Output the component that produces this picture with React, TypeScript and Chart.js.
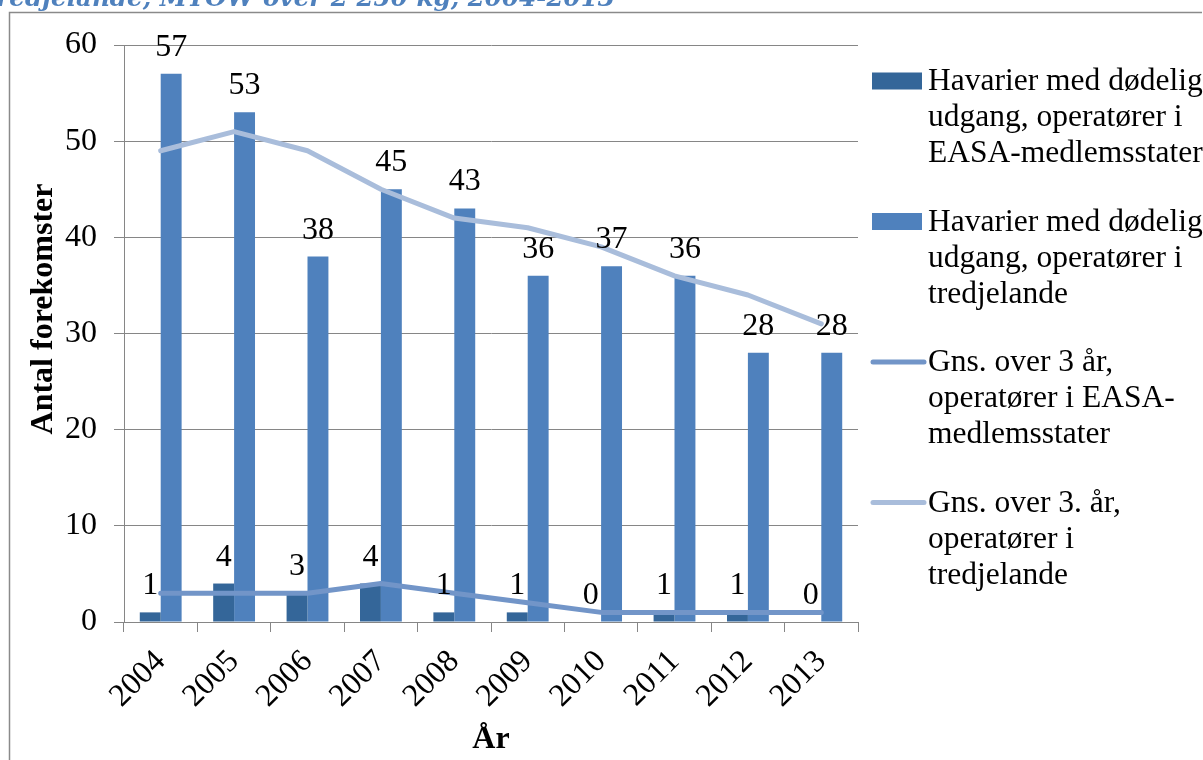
import React, { useEffect, useRef } from "react";
import { Chart, registerables } from "chart.js";

Chart.register(...registerables);

const years = ["2004", "2005", "2006", "2007", "2008", "2009", "2010", "2011", "2012", "2013"];
const easaFatal = [1, 4, 3, 4, 1, 1, 0, 1, 1, 0];
const thirdFatal = [57, 53, 38, 45, 43, 36, 37, 36, 28, 28];
const easaAvg3 = [3, 3, 3, 4, 3, 2, 1, 1, 1, 1];
const thirdAvg3 = [49, 51, 49, 45, 42, 41, 39, 36, 34, 31];

const legendLines = [
  ["Havarier med dødelig", "udgang, operatører i", "EASA-medlemsstater"],
  ["Havarier med dødelig", "udgang, operatører i", "tredjelande"],
  ["Gns. over 3 år,", "operatører i EASA-", "medlemsstater"],
  ["Gns. over 3. år,", "operatører i", "tredjelande"],
];
const yAxisTitle = "Antal forekomster";
const xAxisTitle = "År";
const headingText = "tredjelande, MTOW over 2 250 kg, 2004-2013";

const DARK = "#346699";
const MID = "#4f81bd";
const LINE1 = "#7295c8";
const LINE2 = "#a9bddb";
const GRID = "#868686";
const SERIF = '"Liberation Serif", "Times New Roman", serif';
const FS = 32;

const framePlugin = {
  id: "frameAndHeading",
  beforeDraw(chart: any) {
    const ctx = chart.ctx;
    ctx.save();
    ctx.fillStyle = "#ffffff";
    ctx.fillRect(0, 0, chart.width, chart.height);
    ctx.strokeStyle = "#8a8a8a";
    ctx.lineWidth = 1.5;
    ctx.beginPath();
    ctx.moveTo(9.5, chart.height);
    ctx.lineTo(9.5, 12.5);
    ctx.lineTo(1202, 12.5);
    ctx.stroke();
    // heading (cut off at top of the page)
    ctx.fillStyle = MID;
    ctx.font = 'bold italic 26px "DejaVu Serif", serif';
    ctx.textAlign = "left";
    ctx.textBaseline = "alphabetic";
    const w = ctx.measureText(headingText).width;
    const target = 630;
    const size = (26 * target) / w;
    ctx.font = `bold italic ${size.toFixed(2)}px "DejaVu Serif", serif`;
    ctx.fillText(headingText, 615 - target, 6);
    ctx.restore();
  },
  afterDraw(chart: any) {
    const ctx = chart.ctx;
    ctx.save();
    ctx.fillStyle = "#000000";
    ctx.font = `bold ${FS}px ${SERIF}`;
    ctx.textAlign = "center";
    ctx.textBaseline = "middle";
    ctx.translate(44, 309);
    ctx.rotate(-Math.PI / 2);
    ctx.fillText(yAxisTitle, 0, 0);
    ctx.restore();
  },
};

const labelPlugin = {
  id: "barLabels",
  afterDatasetsDraw(chart: any) {
    const ctx = chart.ctx;
    ctx.save();
    ctx.font = `${FS}px ${SERIF}`;
    ctx.fillStyle = "#000000";
    ctx.textAlign = "center";
    ctx.textBaseline = "alphabetic";
    [0, 1].forEach((di) => {
      const meta = chart.getDatasetMeta(di);
      const data = chart.data.datasets[di].data as number[];
      meta.data.forEach((el: any, i: number) => {
        ctx.fillText(String(data[i]), el.x, el.y - 18);
      });
    });
    ctx.restore();
  },
};

const legendPlugin = {
  id: "sideLegend",
  afterDraw(chart: any) {
    const ctx = chart.ctx;
    const area = chart.chartArea;
    const mx0 = area.right + 14;
    const mx1 = mx0 + 50;
    const tx = mx1 + 6;
    const firstBase = 90;
    const itemStep = 140.5;
    const lineStep = 36;
    ctx.save();
    ctx.font = `31.5px ${SERIF}`;
    ctx.fillStyle = "#000000";
    ctx.textAlign = "left";
    ctx.textBaseline = "alphabetic";
    legendLines.forEach((lines, i) => {
      const ds = chart.data.datasets[i];
      const base = firstBase + i * itemStep;
      const cy = base - 9;
      if (ds.type === "line") {
        ctx.strokeStyle = ds.borderColor;
        ctx.lineWidth = 5;
        ctx.lineCap = "round";
        ctx.beginPath();
        ctx.moveTo(mx0 + 1, cy);
        ctx.lineTo(mx1 + 2, cy);
        ctx.stroke();
      } else {
        ctx.fillStyle = ds.backgroundColor;
        ctx.fillRect(mx0, cy - 8.5, 50, 17);
      }
      ctx.fillStyle = "#000000";
      lines.forEach((t, j) => {
        ctx.fillText(t, tx, base + j * lineStep);
      });
    });
    ctx.restore();
  },
};

export default function App() {
  const ref = useRef<HTMLCanvasElement | null>(null);

  useEffect(() => {
    if (!ref.current) return;
    const chart = new Chart(ref.current, {
      type: "bar",
      data: {
        labels: years,
        datasets: [
          {
            type: "bar",
            label: legendLines[0].join(" "),
            data: easaFatal,
            backgroundColor: DARK,
            borderWidth: 0,
            categoryPercentage: 0.57,
            barPercentage: 1,
            order: 2,
          },
          {
            type: "bar",
            label: legendLines[1].join(" "),
            data: thirdFatal,
            backgroundColor: MID,
            borderWidth: 0,
            categoryPercentage: 0.57,
            barPercentage: 1,
            order: 2,
          },
          {
            type: "line",
            label: legendLines[2].join(" "),
            data: easaAvg3,
            borderColor: LINE1,
            backgroundColor: LINE1,
            borderWidth: 5,
            pointRadius: 0,
            tension: 0,
            borderCapStyle: "round",
            borderJoinStyle: "round",
            order: 1,
          },
          {
            type: "line",
            label: legendLines[3].join(" "),
            data: thirdAvg3,
            borderColor: LINE2,
            backgroundColor: LINE2,
            borderWidth: 5,
            pointRadius: 0,
            tension: 0,
            borderCapStyle: "round",
            borderJoinStyle: "round",
            order: 1,
          },
        ] as any,
      },
      options: {
        responsive: false,
        animation: false,
        layout: { padding: { left: 0, right: 345, top: 45, bottom: 0 } },
        plugins: {
          legend: { display: false },
          title: { display: false },
          tooltip: { enabled: false },
        },
        scales: {
          x: {
            afterFit: (s: any) => {
              s.height = 138;
            },
            grid: {
              offset: true,
              drawOnChartArea: false,
              drawTicks: true,
              tickLength: 10,
              color: GRID,
            },
            border: { display: true, color: GRID, width: 1 },
            ticks: {
              color: "#000000",
              font: { family: SERIF, size: FS },
              maxRotation: 45,
              minRotation: 45,
              padding: 11,
              autoSkip: false,
            },
            title: {
              display: true,
              text: xAxisTitle,
              color: "#000000",
              font: { family: SERIF, size: FS, weight: "bold" },
              padding: { top: 0, bottom: 1 },
            },
          },
          y: {
            min: 0,
            max: 60,
            afterFit: (s: any) => {
              s.width = 124;
            },
            grid: {
              color: GRID,
              drawTicks: true,
              tickLength: 10,
            },
            border: { display: true, color: GRID, width: 1 },
            ticks: {
              stepSize: 10,
              color: "#000000",
              font: { family: SERIF, size: FS },
              padding: 17,
            },
            title: { display: false },
          },
        },
      } as any,
      plugins: [framePlugin, labelPlugin, legendPlugin],
    });
    return () => chart.destroy();
  }, []);

  return (
    <div style={{ position: "fixed", left: 0, top: 0, width: 1203, height: 760, background: "#fff" }}>
      <canvas ref={ref} width={1203} height={760} style={{ display: "block" }} />
    </div>
  );
}
